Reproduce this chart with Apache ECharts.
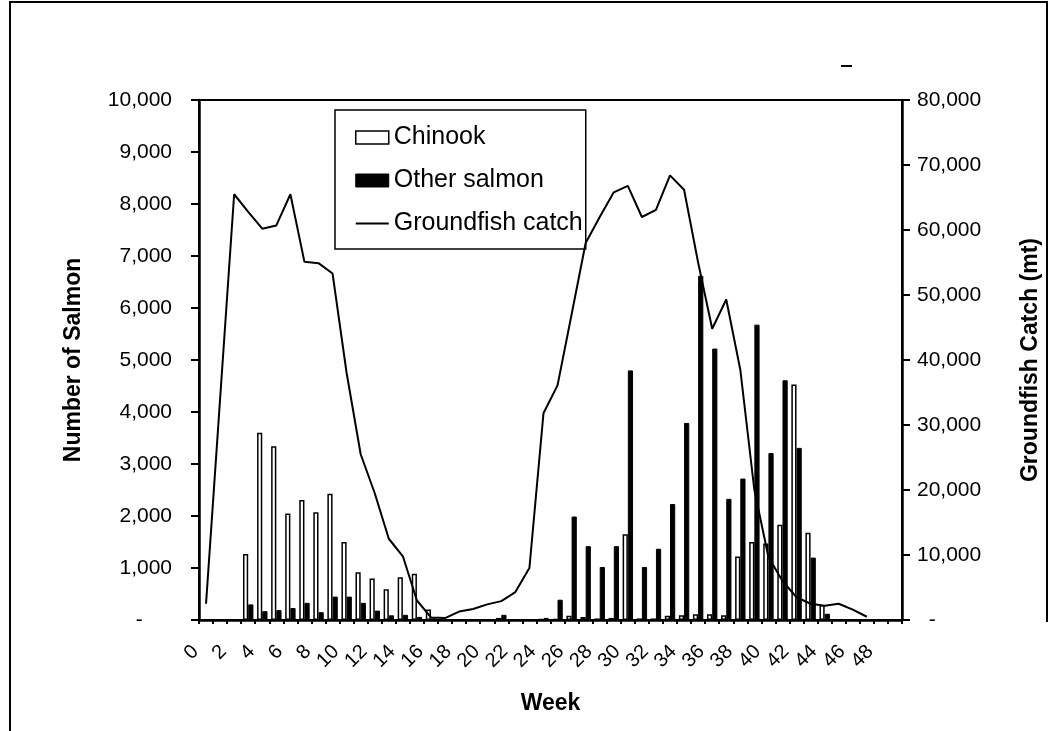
<!DOCTYPE html>
<html>
<head>
<meta charset="utf-8">
<script src="https://cdn.jsdelivr.net/npm/echarts@6/dist/echarts.min.js"></script>
<style>html,body{margin:0;padding:0;background:#fff}#chart{width:1052px;height:731px}</style>
</head>
<body>
<div id="chart"></div>
<script>
const weeks = [0,1,2,3,4,5,6,7,8,9,10,11,12,13,14,15,16,17,18,19,20,21,22,23,24,25,26,27,28,29,30,31,32,33,34,35,36,37,38,39,40,41,42,43,44,45,46,47,48,49];
const chinook = [0,0,0,1270,3600,3340,2050,2310,2070,2430,1500,920,800,590,820,890,200,0,0,0,0,40,0,0,20,20,80,60,30,40,1650,30,30,80,90,110,110,90,1220,1500,1470,1830,4530,1680,290,0,0,0,0,0];
const otherSalmon = [0,0,0,300,170,190,230,330,150,450,450,330,180,90,100,60,30,0,0,0,0,100,0,0,40,390,1990,1420,1020,1420,4800,1020,1370,2230,3790,6620,5220,2330,2720,5680,3210,4610,3310,1200,120,0,0,0,0,0];
const groundfish = [2500,34000,65500,62800,60200,60700,65500,55100,54900,53300,38000,25500,19500,12500,9800,3000,400,300,1300,1700,2400,2900,4300,8000,31800,36100,47000,58000,62000,65800,66800,62000,63100,68400,66200,55000,44800,49300,38500,20000,9700,6000,3500,2500,2200,2500,1600,500,null,null];

const FONT = 'Liberation Sans, Arial, Helvetica, sans-serif';
const fmt = v => v.toLocaleString('en-US');

const chart = echarts.init(document.getElementById('chart'), null, {renderer: 'canvas'});
chart.setOption({
  animation: false,
  backgroundColor: '#fff',
  textStyle: {fontFamily: FONT, color: '#000'},
  graphic: [
    {type: 'polyline', shape: {points: [[10, 731], [10, 2], [1047, 2], [1047, 622]]}, style: {stroke: '#000', lineWidth: 2, fill: null}, silent: true},
    {type: 'line', shape: {x1: 841, y1: 66, x2: 852, y2: 66}, style: {stroke: '#000', lineWidth: 2}, silent: true}
  ],
  grid: {left: 199, right: 150, top: 100, bottom: 111, show: true, borderColor: '#000', borderWidth: 2, backgroundColor: 'transparent'},
  legend: {
    left: 335, top: 110, orient: 'vertical',
    backgroundColor: '#fff', borderColor: '#000', borderWidth: 1.5,
    padding: [15, 3, 13, 20], itemGap: 18, itemWidth: 33, itemHeight: 13,
    symbolKeepAspect: true,
    textStyle: {fontFamily: FONT, fontSize: 25, color: '#000', lineHeight: 25},
    data: [
      {name: 'Chinook', icon: 'rect', itemStyle: {color: '#fff', borderColor: '#000', borderWidth: 1.5}},
      {name: 'Other salmon', icon: 'rect', itemStyle: {color: '#000', borderColor: '#000', borderWidth: 1}},
      {name: 'Groundfish catch', icon: 'path://M0,0 L33,0 L33,2 L0,2 Z', itemStyle: {color: '#000', borderWidth: 0}}
    ]
  },
  xAxis: {
    type: 'category', data: weeks.map(String), boundaryGap: true,
    name: 'Week', nameLocation: 'middle', nameGap: 72,
    nameTextStyle: {fontFamily: FONT, fontSize: 23, fontWeight: 'bold', color: '#000'},
    axisLine: {lineStyle: {color: '#000', width: 2.5}},
    axisTick: {show: true, interval: 0, length: 4, lineStyle: {color: '#000', width: 2}},
    axisLabel: {interval: 1, rotate: 45, margin: 18, fontSize: 20, hideOverlap: false, color: '#000', fontFamily: FONT, padding: [0, 15, 0, 0]},
    splitLine: {show: false}
  },
  yAxis: [
    {
      type: 'value', min: 0, max: 10000, interval: 1000, position: 'left',
      name: 'Number of Salmon', nameLocation: 'middle', nameGap: 114, nameRotate: 90,
      nameTextStyle: {fontFamily: FONT, fontSize: 23, fontWeight: 'bold', color: '#000'},
      axisLine: {show: true, lineStyle: {color: '#000', width: 2.5}},
      axisTick: {show: true, length: 8, lineStyle: {color: '#000', width: 2}},
      axisLabel: {margin: 27, fontSize: 21, color: '#000', fontFamily: FONT, formatter: v => v === 0 ? '-     ' : fmt(v)},
      splitLine: {show: false}
    },
    {
      type: 'value', min: 0, max: 80000, interval: 10000, position: 'right',
      name: 'Groundfish Catch (mt)', nameLocation: 'middle', nameGap: 117, nameRotate: 90,
      nameTextStyle: {fontFamily: FONT, fontSize: 23, fontWeight: 'bold', color: '#000'},
      axisLine: {show: true, lineStyle: {color: '#000', width: 2.5}},
      axisTick: {show: true, length: 8, lineStyle: {color: '#000', width: 2}},
      axisLabel: {margin: 15, fontSize: 21, color: '#000', fontFamily: FONT, formatter: v => v === 0 ? '  -' : fmt(v)},
      splitLine: {show: false}
    }
  ],
  series: [
    {
      name: 'Chinook', type: 'bar', yAxisIndex: 0, data: chinook,
      barGap: '0%', barCategoryGap: '26%',
      itemStyle: {color: '#fff', borderColor: '#000', borderWidth: 1.5}
    },
    {
      name: 'Other salmon', type: 'bar', yAxisIndex: 0, data: otherSalmon,
      itemStyle: {color: '#000', borderColor: '#000', borderWidth: 1}
    },
    {
      name: 'Groundfish catch', type: 'line', yAxisIndex: 1, data: groundfish,
      symbol: 'none', showSymbol: false, connectNulls: false, z: 5,
      lineStyle: {color: '#000', width: 2}, itemStyle: {color: '#000'}
    }
  ]
});
</script>
</body>
</html>
